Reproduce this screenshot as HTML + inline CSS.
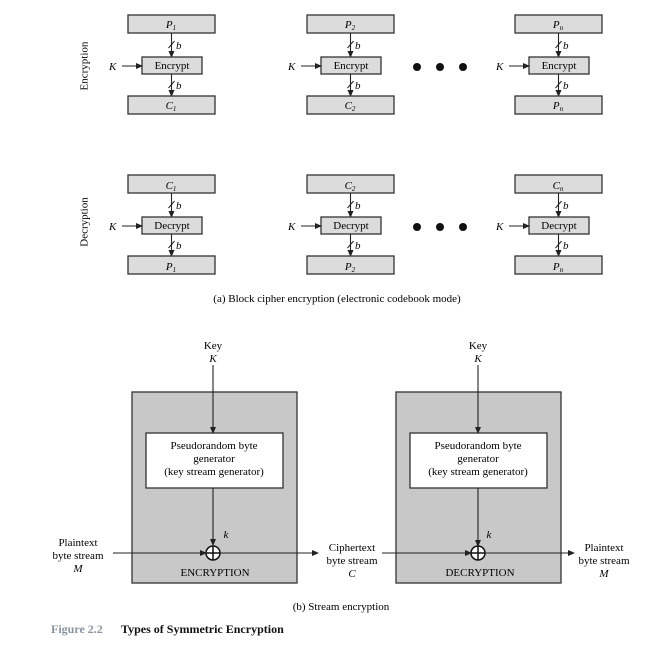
<!DOCTYPE html>
<html><head><meta charset="utf-8"><style>
html,body{margin:0;padding:0;background:#fff;}
svg{display:block;font-family:"Liberation Serif",serif;}
</style></head><body>
<svg width="669" height="656" viewBox="0 0 669 656" xmlns="http://www.w3.org/2000/svg">
<defs>
<marker id="ah" markerWidth="7" markerHeight="6" refX="6" refY="3" orient="auto" markerUnits="userSpaceOnUse">
<path d="M0,0 L7,3 L0,6 Z" fill="#222"/>
</marker>
<g id="blk" text-anchor="start">
<rect x="128" y="15" width="87" height="18" fill="#dcdcdc" stroke="#333" stroke-width="1.3"/>
<line x1="171.5" y1="33" x2="171.5" y2="57" stroke="#222" stroke-width="1.1" marker-end="url(#ah)"/>
<line x1="168.5" y1="48" x2="174.5" y2="41" stroke="#222" stroke-width="1"/>
<text x="176" y="49" font-size="11" font-style="italic" text-anchor="start">b</text>
<rect x="142" y="57" width="60" height="17" fill="#dcdcdc" stroke="#333" stroke-width="1.3"/>
<line x1="171.5" y1="74" x2="171.5" y2="96" stroke="#222" stroke-width="1.1" marker-end="url(#ah)"/>
<line x1="168.5" y1="88" x2="174.5" y2="81" stroke="#222" stroke-width="1"/>
<text x="176" y="89" font-size="11" font-style="italic" text-anchor="start">b</text>
<rect x="128" y="96" width="87" height="18" fill="#dcdcdc" stroke="#333" stroke-width="1.3"/>
<text x="109" y="70" font-size="11" font-style="italic" text-anchor="start">K</text>
<line x1="122" y1="66" x2="142" y2="66" stroke="#222" stroke-width="1.1" marker-end="url(#ah)"/>
</g>
</defs>
<use href="#blk"/>
<use href="#blk" transform="translate(179,0)"/>
<use href="#blk" transform="translate(387,0)"/>
<use href="#blk" transform="translate(0,160)"/>
<use href="#blk" transform="translate(179,160)"/>
<use href="#blk" transform="translate(387,160)"/>
<g font-size="11" text-anchor="middle">
<text x="172" y="69">Encrypt</text><text x="351" y="69">Encrypt</text><text x="559" y="69">Encrypt</text>
<text x="172" y="229">Decrypt</text><text x="351" y="229">Decrypt</text><text x="559" y="229">Decrypt</text>
<g font-style="italic">
<text x="171" y="28">P<tspan font-size="7" dy="2">1</tspan></text>
<text x="350" y="28">P<tspan font-size="7" dy="2">2</tspan></text>
<text x="558" y="28">P<tspan font-size="7" dy="2">n</tspan></text>
<text x="171" y="109">C<tspan font-size="7" dy="2">1</tspan></text>
<text x="350" y="109">C<tspan font-size="7" dy="2">2</tspan></text>
<text x="558" y="109">P<tspan font-size="7" dy="2">n</tspan></text>
<text x="171" y="189">C<tspan font-size="7" dy="2">1</tspan></text>
<text x="350" y="189">C<tspan font-size="7" dy="2">2</tspan></text>
<text x="558" y="189">C<tspan font-size="7" dy="2">n</tspan></text>
<text x="171" y="270">P<tspan font-size="7" dy="2">1</tspan></text>
<text x="350" y="270">P<tspan font-size="7" dy="2">2</tspan></text>
<text x="558" y="270">P<tspan font-size="7" dy="2">n</tspan></text>
</g>
</g>
<g fill="#111">
<circle cx="417" cy="67" r="4"/><circle cx="440" cy="67" r="4"/><circle cx="463" cy="67" r="4"/>
<circle cx="417" cy="227" r="4"/><circle cx="440" cy="227" r="4"/><circle cx="463" cy="227" r="4"/>
</g>
<text x="85" y="66" font-size="11" text-anchor="middle" transform="rotate(-90 85 66)" dominant-baseline="middle">Encryption</text>
<text x="85" y="222" font-size="11" text-anchor="middle" transform="rotate(-90 85 222)" dominant-baseline="middle">Decryption</text>
<text x="337" y="302" font-size="11" text-anchor="middle">(a) Block cipher encryption (electronic codebook mode)</text>

<g font-size="11" text-anchor="middle">
<rect x="132" y="392" width="165" height="191" fill="#c8c8c8" stroke="#333" stroke-width="1.3"/>
<rect x="146" y="433" width="137" height="55" fill="#fff" stroke="#333" stroke-width="1.3"/>
<rect x="396" y="392" width="165" height="191" fill="#c8c8c8" stroke="#333" stroke-width="1.3"/>
<rect x="410" y="433" width="137" height="55" fill="#fff" stroke="#333" stroke-width="1.3"/>
<text x="213" y="349">Key</text><text x="213" y="362" font-style="italic">K</text>
<text x="478" y="349">Key</text><text x="478" y="362" font-style="italic">K</text>
<line x1="213" y1="365" x2="213" y2="433" stroke="#222" stroke-width="1.1" marker-end="url(#ah)"/>
<line x1="478" y1="365" x2="478" y2="433" stroke="#222" stroke-width="1.1" marker-end="url(#ah)"/>
<text x="214" y="449">Pseudorandom byte</text><text x="214" y="462">generator</text><text x="214" y="475">(key stream generator)</text>
<text x="478" y="449">Pseudorandom byte</text><text x="478" y="462">generator</text><text x="478" y="475">(key stream generator)</text>
<line x1="213" y1="488" x2="213" y2="545" stroke="#222" stroke-width="1.1" marker-end="url(#ah)"/>
<line x1="478" y1="488" x2="478" y2="546" stroke="#222" stroke-width="1.1" marker-end="url(#ah)"/>
<text x="226" y="538" font-style="italic">k</text><text x="489" y="538" font-style="italic">k</text>
<circle cx="213" cy="553" r="7" fill="#fff" stroke="#111" stroke-width="1.5"/>
<line x1="206" y1="553" x2="220" y2="553" stroke="#111" stroke-width="1.5"/><line x1="213" y1="546" x2="213" y2="560" stroke="#111" stroke-width="1.5"/>
<circle cx="478" cy="553" r="7" fill="#fff" stroke="#111" stroke-width="1.5"/>
<line x1="471" y1="553" x2="485" y2="553" stroke="#111" stroke-width="1.5"/><line x1="478" y1="546" x2="478" y2="560" stroke="#111" stroke-width="1.5"/>
<line x1="113" y1="553" x2="206" y2="553" stroke="#222" stroke-width="1.1" marker-end="url(#ah)"/>
<line x1="220" y1="553" x2="318" y2="553" stroke="#222" stroke-width="1.1" marker-end="url(#ah)"/>
<line x1="382" y1="553" x2="471" y2="553" stroke="#222" stroke-width="1.1" marker-end="url(#ah)"/>
<line x1="485" y1="553" x2="574" y2="553" stroke="#222" stroke-width="1.1" marker-end="url(#ah)"/>
<text x="78" y="546">Plaintext</text><text x="78" y="559">byte stream</text><text x="78" y="572" font-style="italic">M</text>
<text x="352" y="551">Ciphertext</text><text x="352" y="564">byte stream</text><text x="352" y="577" font-style="italic">C</text>
<text x="604" y="551">Plaintext</text><text x="604" y="564">byte stream</text><text x="604" y="577" font-style="italic">M</text>
<text x="215" y="576">ENCRYPTION</text>
<text x="480" y="576">DECRYPTION</text>
<text x="341" y="610">(b) Stream encryption</text>
</g>
<text x="51" y="633" font-size="12" font-weight="bold" fill="#8a94a0">Figure 2.2</text>
<text x="121" y="633" font-size="12" font-weight="bold" fill="#111">Types of Symmetric Encryption</text>
</svg>
</body></html>
